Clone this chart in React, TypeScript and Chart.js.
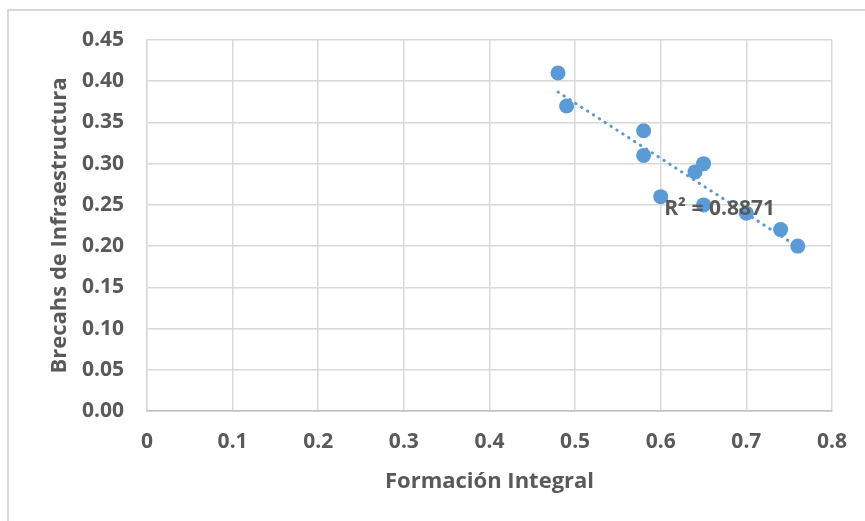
import React, { useEffect, useRef } from "react";
import { Chart, registerables } from "chart.js";

Chart.register(...registerables);

const formacionIntegral = [0.48, 0.49, 0.58, 0.58, 0.6, 0.64, 0.65, 0.65, 0.7, 0.74, 0.76];
const brechasInfraestructura = [0.41, 0.37, 0.34, 0.31, 0.26, 0.29, 0.3, 0.25, 0.24, 0.22, 0.2];
const xTicks = [0, 0.1, 0.2, 0.3, 0.4, 0.5, 0.6, 0.7, 0.8];
const yTicks = [0, 0.05, 0.1, 0.15, 0.2, 0.25, 0.3, 0.35, 0.4, 0.45];
const r2Label = "R² = 0.8871";
const r2Anchor = [0.604, 0.245];

function linearFit(xs: number[], ys: number[]) {
  const n = xs.length;
  const mx = xs.reduce((a, b) => a + b, 0) / n;
  const my = ys.reduce((a, b) => a + b, 0) / n;
  let sxy = 0, sxx = 0;
  for (let i = 0; i < n; i++) {
    sxy += (xs[i] - mx) * (ys[i] - my);
    sxx += (xs[i] - mx) ** 2;
  }
  const slope = sxy / sxx;
  return { slope, intercept: my - slope * mx };
}

const FONT = "'Open Sans', 'Noto Sans', sans-serif";
const GRAY = "#595959";
const BLUE = "#5b9bd5";

export default function App() {
  const ref = useRef<HTMLCanvasElement | null>(null);
  useEffect(() => {
    document.body.style.margin = "0";
    const points = formacionIntegral.map((x, i) => ({ x, y: brechasInfraestructura[i] }));
    const fit = linearFit(formacionIntegral, brechasInfraestructura);
    const xMin = Math.min(...formacionIntegral);
    const xMax = Math.max(...formacionIntegral);
    const trend = [
      { x: xMin, y: fit.intercept + fit.slope * xMin },
      { x: xMax, y: fit.intercept + fit.slope * xMax },
    ];
    const labelPlugin = {
      id: "r2label",
      afterDatasetsDraw(chart: any) {
        const { ctx, scales } = chart;
        const px = scales.x.getPixelForValue(r2Anchor[0]);
        const py = scales.y.getPixelForValue(r2Anchor[1]);
        ctx.save();
        ctx.font = `bold 21px ${FONT}`;
        ctx.fillStyle = GRAY;
        ctx.textAlign = "left";
        ctx.textBaseline = "middle";
        ctx.fillText(r2Label, px, py);
        ctx.restore();
      },
    };
    const chart = new Chart(ref.current as HTMLCanvasElement, {
      type: "scatter",
      data: {
        datasets: [
          {
            label: "Brechas",
            data: points,
            backgroundColor: BLUE,
            borderColor: BLUE,
            pointRadius: 7.5,
            pointHoverRadius: 7.5,
            borderWidth: 0,
            order: 2,
          },
          {
            type: "line",
            label: "Trend",
            data: trend,
            borderColor: BLUE,
            borderWidth: 3,
            borderDash: [0.5, 6.5],
            borderCapStyle: "round",
            pointRadius: 0,
            fill: false,
            order: 1,
          } as any,
        ],
      },
      options: {
        animation: false,
        responsive: false,
        maintainAspectRatio: false,
        layout: { padding: { left: 0, top: 40, right: 32, bottom: 0 } },
        plugins: { legend: { display: false }, tooltip: { enabled: false } },
        scales: {
          x: {
            type: "linear",
            min: 0,
            max: 0.8,
            afterBuildTicks: (s: any) => {
              s.ticks = xTicks.map((v) => ({ value: v }));
            },
            afterFit: (s: any) => {
              s.height = 110;
            },
            grid: { color: "#d9d9d9", lineWidth: 1.5, drawTicks: false },
            border: { color: "#bfbfbf", width: 1.5 },
            ticks: {
              padding: 18,
              color: GRAY,
              font: { family: FONT, size: 21, weight: "bold" },
              callback: (v: any) => String(Number(v)),
            },
            title: {
              display: true,
              text: "Formación Integral",
              color: GRAY,
              font: { family: FONT, size: 22, weight: "bold" },
              padding: { top: 0, bottom: 26 },
            },
          },
          y: {
            type: "linear",
            min: 0,
            max: 0.45,
            afterBuildTicks: (s: any) => {
              s.ticks = yTicks.map((v) => ({ value: v }));
            },
            afterFit: (s: any) => {
              s.width = 147;
            },
            grid: { color: "#d9d9d9", lineWidth: 1.5, drawTicks: false },
            border: { color: "#d9d9d9", width: 1.5 },
            ticks: {
              padding: 23,
              color: GRAY,
              font: { family: FONT, size: 21, weight: "bold" },
              callback: (v: any) => Number(v).toFixed(2),
            },
            title: {
              display: true,
              text: "Brecahs de Infraestructura",
              color: GRAY,
              font: { family: FONT, size: 22, weight: "bold" },
              padding: { top: 47, bottom: 0 },
            },
          },
        },
      },
      plugins: [labelPlugin],
    });
    return () => chart.destroy();
  }, []);
  return (
    <div style={{ position: "relative", width: 865, height: 521, overflow: "hidden", background: "#fff" }}>
      <div
        style={{
          position: "absolute",
          left: 7,
          top: 9,
          width: 880,
          height: 540,
          border: "2px solid #d9d9d9",
          boxSizing: "border-box",
        }}
      />
      <canvas ref={ref} width={865} height={521} style={{ position: "absolute", left: 0, top: 0, display: "block" }} />
    </div>
  );
}
